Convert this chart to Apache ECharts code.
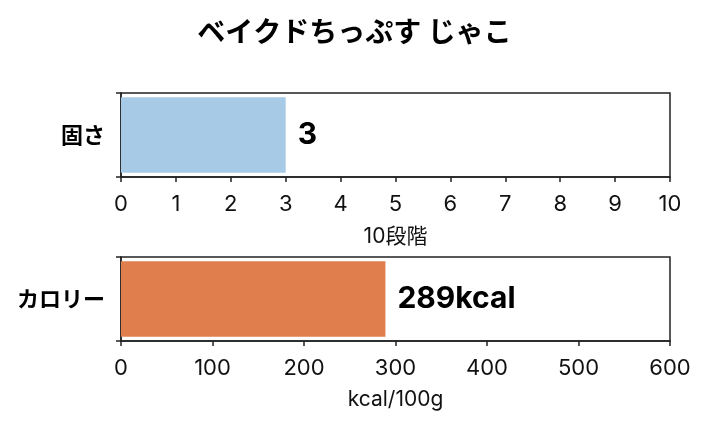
<!DOCTYPE html>
<html><head><meta charset="utf-8">
<script src="https://cdn.jsdelivr.net/npm/echarts@6/dist/echarts.min.js"></script>
<style>html,body{margin:0;padding:0;background:#fff}#c{width:709px;height:426px}</style>
</head><body><div id="c"></div>
<script>
const titleText = 'ベイクドちっぷす じゃこ';
const cat1 = ['固さ'];
const val1 = [3];
const lab1 = ['3'];
const cat2 = ['カロリー'];
const val2 = [289];
const lab2 = ['289kcal'];
const axisName1 = '10段階';
const axisName2 = 'kcal/100g';

const F = 'Inter, "Noto Sans CJK JP", sans-serif';
const FJ = '"Noto Sans CJK JP", sans-serif';
const chart = echarts.init(document.getElementById('c'));
const axisCommon = {
  axisLine: {show: true, lineStyle: {color: '#222', width: 1.5}},
  axisTick: {show: true, length: 5, lineStyle: {color: '#222', width: 1.5}},
  axisLabel: {color: '#111', fontFamily: F, fontSize: 22, margin: 16},
  splitLine: {show: false}
};
const nameStyle = {fontFamily: F, fontSize: 21, color: '#111'};
const yLab = {color: '#000', fontFamily: FJ, fontSize: 22, fontWeight: 'bold', margin: 16};
const barLab = {show: true, position: 'right', distance: 12, fontFamily: F, fontSize: 30, fontWeight: 'bold', color: '#000'};
chart.setOption({
  animation: false,
  title: {text: titleText, left: 'center', top: 12, textStyle: {fontFamily: FJ, fontSize: 28, fontWeight: 'bold', color: '#000'}},
  grid: [
    {left: 121, right: 39, top: 93, height: 84, show: true, borderColor: '#222', borderWidth: 1.5},
    {left: 121, right: 39, top: 257, height: 84, show: true, borderColor: '#222', borderWidth: 1.5}
  ],
  xAxis: [
    Object.assign({}, axisCommon, {type: 'value', gridIndex: 0, min: 0, max: 10, interval: 1,
      name: axisName1, nameLocation: 'middle', nameGap: 49, nameTextStyle: nameStyle}),
    Object.assign({}, axisCommon, {type: 'value', gridIndex: 1, min: 0, max: 600, interval: 100,
      name: axisName2, nameLocation: 'middle', nameGap: 48, nameTextStyle: nameStyle})
  ],
  yAxis: [
    Object.assign({}, axisCommon, {type: 'category', gridIndex: 0, data: cat1, axisLabel: yLab}),
    Object.assign({}, axisCommon, {type: 'category', gridIndex: 1, data: cat2, axisLabel: yLab})
  ],
  series: [
    {type: 'bar', xAxisIndex: 0, yAxisIndex: 0, data: val1, barCategoryGap: '10%',
      itemStyle: {color: '#a7cbe7'},
      label: Object.assign({}, barLab, {formatter: (p) => lab1[p.dataIndex]})},
    {type: 'bar', xAxisIndex: 1, yAxisIndex: 1, data: val2, barCategoryGap: '10%',
      itemStyle: {color: '#e07e4e'},
      label: Object.assign({}, barLab, {formatter: (p) => lab2[p.dataIndex]})}
  ]
});
</script></body></html>
